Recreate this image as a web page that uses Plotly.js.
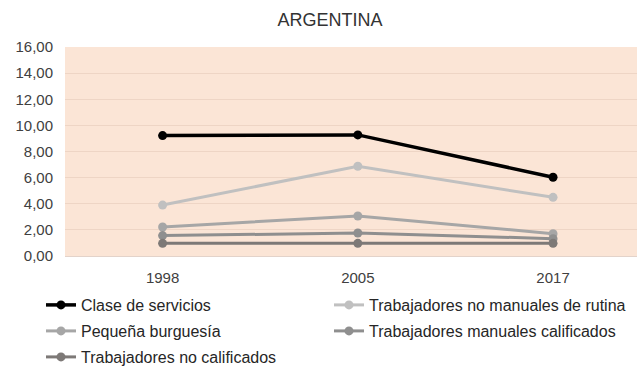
<!DOCTYPE html>
<html>
<head>
<meta charset="utf-8">
<script src="https://cdn.plot.ly/plotly-3.0.1.min.js"></script>
<style>html,body{margin:0;padding:0;background:#fff;}#chart{width:637px;height:367px;}</style>
</head>
<body>
<div id="chart"></div>
<script>
// Years surveyed
const years = ['1998', '2005', '2017'];

// Odds ratios by social class
const claseServicios = [9.22, 9.27, 6.03];
const noManualesRutina = [3.90, 6.87, 4.49];
const pequenaBurguesia = [2.22, 3.06, 1.71];
const manualesCalificados = [1.56, 1.76, 1.33];
const noCalificados = [0.97, 0.97, 0.97];

const seriesNames = [
  'Clase de servicios',
  'Trabajadores no manuales de rutina',
  'Pequeña burguesía',
  'Trabajadores manuales calificados',
  'Trabajadores no calificados'
];
const seriesValues = [claseServicios, noManualesRutina, pequenaBurguesia, manualesCalificados, noCalificados];
const seriesColors = ['#000000', '#c0c0c0', '#a6a6a6', '#8f8f8f', '#7d7977'];
const lineWidths = [3.5, 3, 3, 3, 3];

// Each series gets its own legend box so the two-column key can be laid out freely
const legendIds = ['legend', 'legend2', 'legend3', 'legend4', 'legend5'];
// Legend box anchors (container pixels): [left, vertical centre]
const legendSlots = [[41, 305], [329, 305], [41, 331], [329, 331], [41, 357]];

const traces = seriesValues.map((vals, i) => ({
  type: 'scatter',
  mode: 'lines+markers',
  x: years,
  y: vals,
  name: seriesNames[i],
  legend: legendIds[i],
  line: {color: seriesColors[i], width: lineWidths[i]},
  marker: {color: seriesColors[i], size: 9},
  hoverinfo: 'x+y+name'
}));

const W = 637, H = 367;

const layout = {
  width: W,
  height: H,
  separators: ',.',
  paper_bgcolor: '#ffffff',
  plot_bgcolor: '#fbe5d6',
  font: {family: '"Liberation Sans", Arial, sans-serif', color: '#404040', size: 15},
  title: {
    text: 'ARGENTINA',
    font: {size: 18, color: '#333333'},
    x: 330 / W, xref: 'container', xanchor: 'center',
    y: 1 - 20 / H, yref: 'container', yanchor: 'middle'
  },
  margin: {l: 65, r: 0, t: 47, b: 111},
  xaxis: {
    type: 'category',
    range: [-0.5, 2.43],
    showgrid: false,
    showline: true,
    linecolor: '#e3d3ca',
    linewidth: 1,
    ticks: '',
    ticklabelstandoff: 8,
    tickfont: {size: 15, color: '#404040'},
    zeroline: false
  },
  yaxis: {
    range: [0, 16],
    dtick: 2,
    tickformat: '.2f',
    showgrid: true,
    gridcolor: '#eed5c5',
    gridwidth: 1,
    zeroline: false,
    showline: false,
    ticks: '',
    ticklabelstandoff: 11,
    tickfont: {size: 15, color: '#404040'}
  },
  showlegend: true
};

legendIds.forEach((id, i) => {
  layout[id] = {
    orientation: 'h',
    xref: 'container', yref: 'container',
    x: legendSlots[i][0] / W, xanchor: 'left',
    y: 1 - legendSlots[i][1] / H, yanchor: 'middle',
    itemwidth: 30,
    font: {size: 16, color: '#262626'},
    bgcolor: 'rgba(0,0,0,0)',
    borderwidth: 0
  };
});

Plotly.newPlot('chart', traces, layout, {displayModeBar: false, staticPlot: true});
</script>
</body>
</html>
